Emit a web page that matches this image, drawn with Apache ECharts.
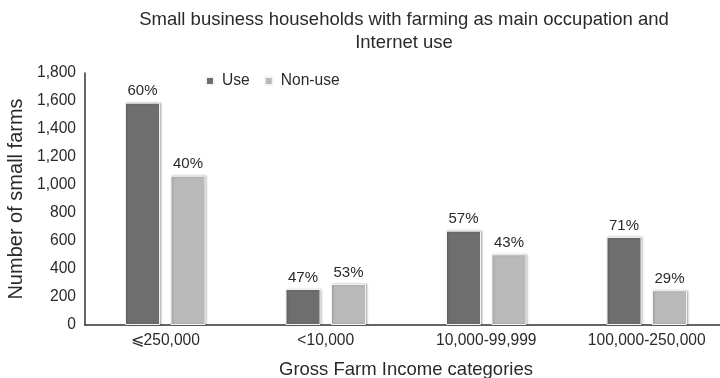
<!DOCTYPE html>
<html>
<head>
<meta charset="utf-8">
<script src="https://cdn.jsdelivr.net/npm/echarts@6/dist/echarts.min.js"></script>
<style>
  html, body { margin: 0; padding: 0; background: #fff; }
  #chart { width: 720px; height: 378px; }
</style>
</head>
<body>
<div id="chart"></div>
<script>
const categories = ['\u2A7D250,000', '<10,000', '10,000-99,999', '100,000-250,000'];
const useValues = [1588, 257, 674, 629];
const nonUseValues = [1066, 293, 505, 248];
const usePct = ['60%', '47%', '57%', '71%'];
const nonUsePct = ['40%', '53%', '43%', '29%'];

const font = '"Liberation Sans", Arial, sans-serif';
const chart = echarts.init(document.getElementById('chart'));

function barSeries(name, data, pct, color) {
  return {
    name: name,
    type: 'bar',
    data: data,
    barWidth: 35,
    barGap: '30%',
    itemStyle: {
      color: color,
      borderColor: '#f4f4f4',
      borderWidth: 1,
      shadowColor: 'rgba(0,0,0,0.25)',
      shadowBlur: 2,
      shadowOffsetX: 1
    },
    label: {
      show: true,
      position: 'top',
      distance: 4,
      color: '#2a2a2a',
      fontSize: 15,
      fontFamily: font,
      formatter: p => pct[p.dataIndex]
    }
  };
}

chart.setOption({
  animation: false,
  title: {
    text: 'Small business households with farming as main occupation and\nInternet use',
    left: 404,
    top: 8,
    padding: 0,
    textAlign: 'center',
    textStyle: { fontSize: 18.5, fontWeight: 'normal', color: '#2a2a2a', fontFamily: font, lineHeight: 23 }
  },
  legend: {
    data: ['Use', 'Non-use'],
    left: 205,
    top: 73,
    padding: 0,
    itemWidth: 8,
    itemHeight: 8,
    itemGap: 14,
    icon: 'rect',
    textStyle: { fontSize: 15.6, color: '#2a2a2a', fontFamily: font, padding: [0, 0, 0, 3] }
  },
  grid: { left: 85, right: -7, top: 73, bottom: 53, containLabel: false, outerBoundsMode: 'none' },
  xAxis: {
    type: 'category',
    data: categories,
    name: 'Gross Farm Income categories',
    nameLocation: 'middle',
    nameGap: 35,
    nameTextStyle: { fontSize: 18.5, color: '#2a2a2a', fontFamily: font },
    axisTick: { show: false },
    axisLine: { lineStyle: { color: '#333', width: 1.5 } },
    axisLabel: { fontSize: 15.6, color: '#2a2a2a', fontFamily: font, margin: 8 }
  },
  yAxis: {
    type: 'value',
    min: 0,
    max: 1800,
    interval: 200,
    name: 'Number of small farms',
    nameLocation: 'middle',
    nameGap: 54,
    nameTextStyle: { fontSize: 20, color: '#2a2a2a', fontFamily: font },
    axisLine: { show: true, lineStyle: { color: '#333', width: 1.5 } },
    axisTick: { show: false },
    splitLine: { show: false },
    axisLabel: {
      fontSize: 15.6, color: '#2a2a2a', fontFamily: font, margin: 9,
      formatter: v => v.toLocaleString('en-US')
    }
  },
  series: [
    barSeries('Use', useValues, usePct, '#6e6e6e'),
    barSeries('Non-use', nonUseValues, nonUsePct, '#b9b9b9')
  ]
});
</script>
</body>
</html>
